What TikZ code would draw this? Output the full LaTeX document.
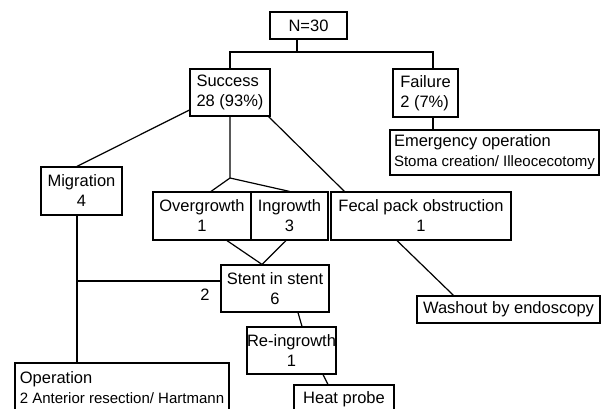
\documentclass[tikz,border=0pt]{standalone}
\usepackage{fontspec}
\setmainfont{Liberation Sans}
\tikzset{box/.style={rectangle,draw,inner sep=0pt,align=center,font=\fontsize{16.5}{20}\selectfont},
        lbox/.style={box,align=left}}
\newcommand{\smalltxt}{\fontsize{15}{18}\selectfont}

\begin{document}
\begin{tikzpicture}[x=1pt,y=-1pt,line width=1.2pt]
        \useasboundingbox (0,0) rectangle (601,408);
        \clip (0,0) rectangle (601,408);
        \node[box,minimum width=77pt,minimum height=27pt] (n30) at (308.5,25.5) {N=30};
        \node[lbox,minimum width=80pt,minimum height=47pt] (success) at (230,92.5) {Success\\28 (93\%)};
        \node[lbox,minimum width=65pt,minimum height=48pt] (failure) at (425.5,93) {Failure\\2 (7\%)};
        \node[lbox,minimum width=209pt,minimum height=45pt] (emergency) at (494.5,152.5) {Emergency operation\\{\smalltxt Stoma creation/ Illeocecotomy}};
        \node[box,minimum width=81pt,minimum height=48pt] (migration) at (81.5,191) {Migration\\4};
        \node[box,minimum width=98pt,minimum height=48pt] (overgrowth) at (202,216) {Overgrowth\\1};
        \node[box,minimum width=77pt,minimum height=48pt] (ingrowth) at (289.5,216) {Ingrowth\\3};
        \node[box,minimum width=180pt,minimum height=48pt] (fecal) at (421,216) {Fecal pack obstruction\\1};
        \node[box,minimum width=108pt,minimum height=47pt] (stent) at (275,288.5) {Stent in stent\\6};
        \node[box,minimum width=183pt,minimum height=27pt] (washout) at (508.5,309.5) {Washout by endoscopy};
        \node[box,minimum width=75pt,minimum height=47pt] (reingrowth) at (291.5,350.5) {Re-ingrowth\\1};
        \node[lbox,minimum width=214pt,minimum height=50pt] (operation) at (122,388) {Operation\\{\smalltxt 2 Anterior resection/ Hartmann}};
        \node[box,minimum width=100pt,minimum height=28pt] (heat) at (344,399) {Heat probe};
        \node[font=\fontsize{16.5}{20}\selectfont] (two) at (205,295) {2};

        \coordinate (split) at (297,52);
        \coordinate (fork) at (230,178);
        \coordinate (trunk) at (77,281);
        \draw (n30.south -| split) -- (split);
        \draw (success.north) |- (split) -| ([xshift=7.5pt]failure.north);
        \draw ([xshift=7.5pt]failure.south) -- ([xshift=7.5pt]failure.south |- emergency.north);
        \draw (success.west |- 0,110) -- (migration.north -| trunk);
        \draw (migration.south -| trunk) -- (operation.north -| trunk);
        \draw (stent.west |- trunk) -- (trunk);
        \draw (success.south) -- (fork) -- ([xshift=9pt]overgrowth.north);
        \draw (fork) -- (ingrowth.north);
        \draw ([xshift=-2pt]success.south east) -- ([xshift=14pt]fecal.north west);
        \draw ([xshift=25pt]overgrowth.south) -- ([xshift=-13pt]stent.north) -- ([xshift=-3.5pt]ingrowth.south);
        \draw ([xshift=23pt]stent.south) -- ([xshift=10.5pt]reingrowth.north);
        \draw ([xshift=31.5pt]reingrowth.south) -- ([xshift=-16pt]heat.north);
        \draw ([xshift=-24pt]fecal.south) -- ([xshift=-55pt]washout.north);
\end{tikzpicture}
\end{document}
